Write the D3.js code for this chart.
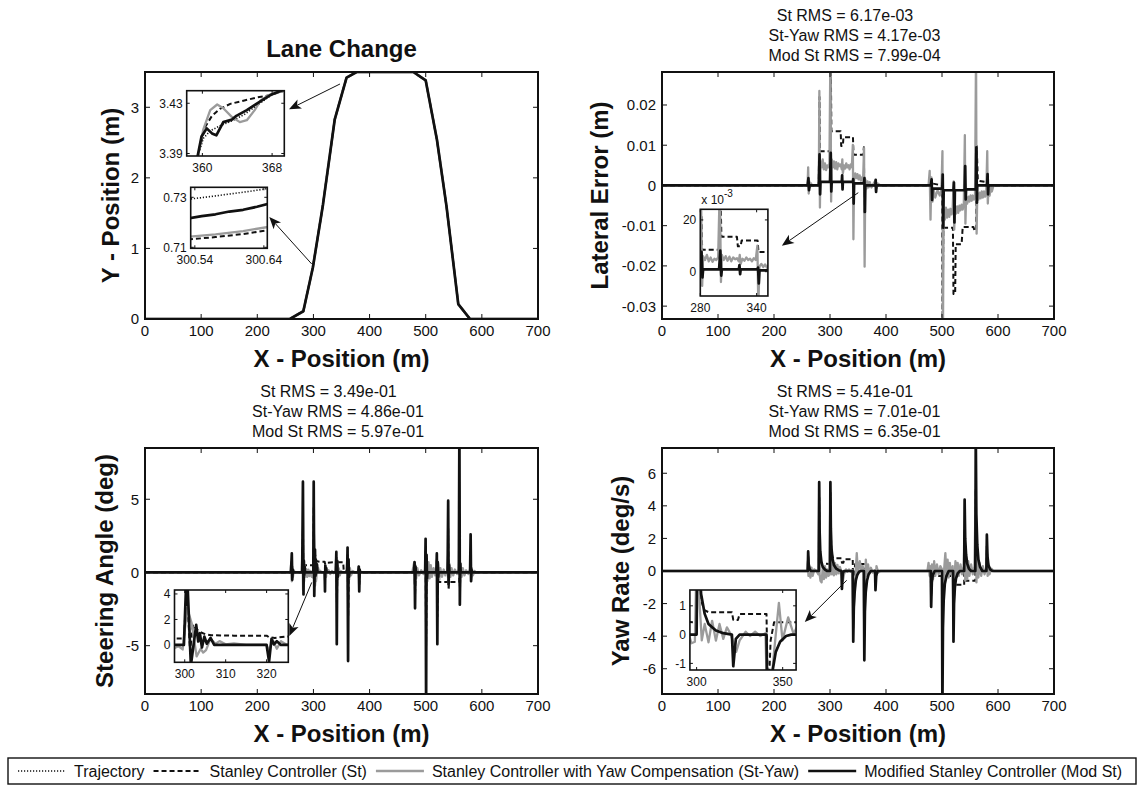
<!DOCTYPE html>
<html>
<head>
<meta charset="utf-8">
<script src="https://cdn.jsdelivr.net/npm/d3@7"></script>
<style>
  body { margin: 0; background: #fff; }
  text { font-family: "Liberation Sans", Arial, Helvetica, sans-serif; fill: #111; }
</style>
</head>
<body>
<svg id="fig" width="1142" height="785"></svg>
<script>
// ---- data ----
const xTicks = [0, 100, 200, 300, 400, 500, 600, 700];

// lane change path (all four controllers overlap at this scale)
const laneMain = [[0,0],[258,0],[282,0.11],[299,0.73],[317,1.62],[338,2.83],[359,3.42],[377,3.5],
  [478,3.5],[500,3.38],[520,2.54],[537,1.6],[558,0.21],[579,0],[700,0]];

// inset: x 358..369
const laneA_traj = [[359.4,3.386],[360.1,3.402],[360.9,3.408],[362,3.412],[363.4,3.416],[364.8,3.421],[366.2,3.428],[367.8,3.436],[369.4,3.441]];
const laneA_st = [[359.4,3.386],[360.3,3.411],[361.1,3.42],[362,3.4255],[363.2,3.4295],[364.7,3.432],[366.2,3.4345],[367.8,3.4365],[369.4,3.44]];
const laneA_yaw = [[359.5,3.388],[360.1,3.409],[360.9,3.4245],[361.7,3.429],[362.4,3.426],[363.4,3.419],[364.3,3.415],[365.1,3.4165],[366,3.4245],[366.7,3.4325],[367.6,3.4365],[369.4,3.44]];
const laneA_mod = [[359.4,3.386],[359.9,3.4035],[360.5,3.41],[361.1,3.406],[361.6,3.4045],[362.4,3.415],[363.4,3.417],[363.9,3.42],[365.1,3.4245],[366.2,3.4295],[367.8,3.4365],[369.4,3.441]];

// inset: x 300.54..300.64
const laneB_traj = [[300.53,0.7292],[300.56,0.7302],[300.59,0.7313],[300.62,0.7324],[300.65,0.7337]];
const laneB_st = [[300.53,0.7131],[300.57,0.7141],[300.61,0.7153],[300.65,0.717]];
const laneB_yaw = [[300.53,0.7142],[300.57,0.7152],[300.61,0.7165],[300.65,0.7183]];
const laneB_mod = [[300.53,0.7215],[300.55,0.7225],[300.57,0.7232],[300.59,0.7243],[300.61,0.725],[300.63,0.7262],[300.65,0.7277]];

// lateral error (m)
const latSt = [[0,0],[260,0],[261.5,0.001],[262.5,-0.0008],[263.5,0],[280,0],
  [281.2,0.022],[282,0.0085],[300.5,0.0085],[301.2,0.034],[302.5,0.0135],[319,0.0135],[320,0.0098],[323,0.0098],[324,0.012],[341,0.012],
  [342,0.0076],[359.5,0.0076],[360.5,0.0095],[361.5,-0.0068],[363,0.0003],[380,0],[381.5,0.0012],[382.5,-0.0008],[384,0],
  [480,0],[481.3,-0.0015],[482.5,0.0005],[500,0],[501,-0.034],[502.5,-0.0105],[519.5,-0.0105],[520.5,-0.027],[523.5,-0.027],
  [524.5,-0.0146],[535,-0.0146],[537,-0.0103],[556,-0.0103],[558,-0.0112],[561,-0.0112],[562,0.0098],[564,0.0012],[580,0.0008],
  [581.5,0.0025],[582.5,-0.0012],[584,0],[700,0]];
const latYaw = [[0,0],[260,0],[261,0.0045],[262,-0.002],[263,0.001],[264,-0.0005],[266,0.0005],[268,0],[280,0],
  [281,0.0235],[282,-0.0055],[283,0.006],[285,0.0045],[287,0.0065],[289,0.004],[291,0.0055],[293,0.0038],[295,0.005],[297,0.0045],[299,0.0055],
  [300.8,0.034],[302,-0.004],[303,0.0065],[305,0.0045],[307,0.006],[309,0.0042],[311,0.0058],[313,0.004],[315,0.0055],[317,0.0048],[319,0.0052],
  [321,0.004],[322,0.0065],[323,0.003],[325,0.005],[327,0.0042],[329,0.0055],[331,0.0045],[333,0.005],[335,0.004],[337,0.0052],[339,0.0045],
  [340.8,0.0101],[341.8,-0.0134],[343,0.002],[345,0.003],[347,0.0018],[349,0.0028],[351,0.0015],[353,0.0025],[355,0.0012],[357,0.002],[359,0.001],
  [360.8,0.0093],[361.8,-0.0202],[363,0.0015],[365,-0.0008],[367,0.001],[369,-0.0005],[371,0.0008],[374,-0.0005],[378,0.0005],[381,0.0012],[382,-0.0012],[385,0.0005],[390,0],
  [476,0],[478,0.0036],[479.5,-0.0085],[481,0.002],[483,-0.004],[485,-0.001],[488,-0.003],[492,-0.0012],[496,-0.0025],[499,-0.001],
  [500.8,0.0085],[501.8,-0.034],[503,-0.006],[505,-0.0085],[507,-0.0055],[509,-0.008],[511,-0.006],[513,-0.0078],[515,-0.0058],[517,-0.0072],[519,-0.006],
  [520.8,0.001],[521.8,-0.011],[523,-0.0055],[525,-0.007],[527,-0.0052],[529,-0.0068],[531,-0.005],[533,-0.0062],[535,-0.0048],[537,-0.006],[539,-0.0045],
  [540.8,0.0125],[541.8,-0.0095],[543,-0.003],[545,-0.0045],[547,-0.0028],[549,-0.004],[551,-0.0025],[553,-0.0038],[555,-0.0025],[557,-0.0035],[559,-0.0028],
  [560.8,0.034],[561.8,-0.012],[563,-0.002],[565,-0.0035],[567,-0.0018],[569,-0.0032],[571,-0.0015],[573,-0.003],[575,-0.0015],[577,-0.0028],[579,-0.002],
  [580.8,0.0085],[581.8,-0.0045],[583,-0.001],[585,-0.0025],[587,-0.0005],[589,-0.0015],[592,0],[700,0]];
const latMod = [[0,0],[260,0],[261.5,0.0018],[262.5,-0.0012],[263.5,0],[280,0],
  [281.3,0.0077],[282.3,-0.0022],[283,0.0009],[300,0.0009],[301.3,0.0081],[302.3,-0.0015],[303,0.0009],[321,0.0009],
  [321.7,0.0025],[322.4,-0.001],[323,0.0009],[341,0.0009],[341.5,0.0016],[342.3,-0.0045],[343,0.0005],[361,0.0005],
  [361.5,0.0018],[362.3,-0.0066],[363,0],[381,0],[381.6,0.0014],[382.3,-0.0016],[383,0],
  [480,0],[481.5,0.0015],[482.3,-0.0036],[483,-0.0008],[500.5,-0.0008],[501.3,0.0027],[502.2,-0.0105],[503,-0.0012],[520.5,-0.0012],
  [521.3,0.0007],[522.2,-0.0092],[523,-0.0012],[540.5,-0.0012],[541.4,0.0048],[542.3,-0.0035],[543,-0.001],[560.5,-0.001],
  [561.4,0.0095],[562.3,-0.0043],[563,0],[580.5,0],[581.4,0.0028],[582.3,-0.0022],[583,0],[700,0]];

// steering angle (deg)
const steerSt = [[0,0],[260,0],[261.5,0.8],[262.5,-0.3],[263.5,0],[280,0],[281.3,3],[282.3,-0.8],[283.5,0.5],[299.8,0.5],
  [300.5,4.5],[301.3,-0.5],[302,1.6],[303,1.2],[304,0.98],[305,0.85],[306.5,0.76],[312,0.73],[320,0.73],[320.6,0.6],[322,0.55],[325,0.67],
  [340,0.7],[341,1],[341.8,-2],[343,0.7],[353,0.7],[354,0.1],[360,0.1],[361,1.2],[361.8,-3],[363,0],[380,0],[381,0.3],[381.8,-0.8],[383,0],
  [479,0],[480.2,0.5],[481,-1.5],[482,0],[499,0],[499.8,1.5],[500.7,-5],[501.5,0],[519,0],[519.8,0.8],[520.7,-3],[521.5,-0.2],[523,-0.65],
  [539.5,-0.65],[540,3],[540.8,-1.2],[541.6,-0.65],[559.5,-0.65],[560,4],[560.8,-1],[562,0],[579,0],[580,1.2],[580.8,-0.4],[582,0],[700,0]];
const steerYaw = [[0,0],[259,0],[260.5,0.7],[261.5,-0.6],[262.5,0.4],[263.5,-0.3],[265,0.15],[267,0],[279,0],
  [280.5,1.5],[281.5,-1.2],[282.5,0.9],[283.5,-0.6],[284.5,0.5],[285.5,-0.3],[287,0.25],[289,-0.3],[291,0.2],[293,-0.25],[295,0.1],[297,-0.3],[298.5,-0.1],[299.5,-0.35],
  [300.6,2.9],[301.7,1.7],[302.9,-0.9],[303.9,-0.3],[304.5,-0.6],[305.2,-0.4],[306.3,0.5],[307.5,0.1],[308.5,0.3],[310,0.05],[312,0.12],[315,0],[320,0],
  [320.5,-0.5],[321.5,0.4],[322.5,-0.3],[323.5,0.3],[325,0],[327,0.15],[330,-0.1],[333,0.1],[336,-0.05],[339,0],
  [340.5,1],[341.5,-1.1],[342.5,0.7],[343.5,-0.5],[345,0.3],[347,-0.2],[349,0.1],[352,0],[359,0],
  [360.5,1.1],[361.5,-1.2],[362.5,0.8],[363.5,-0.5],[365,0.3],[367,-0.2],[370,0.1],[374,0],[379,0],[380.5,0.4],[381.5,-0.5],[382.5,0.2],[384,0],[390,0],
  [476,0],[478,0.4],[479.5,0.7],[480.5,-0.8],[481.5,0.5],[483,-0.4],[485,0.3],[488,-0.2],[492,0.15],[496,-0.1],[499,0.2],
  [500,1.2],[501,-1.3],[502,0.9],[503,-0.6],[505,0.7],[507,-0.4],[509,0.5],[511,-0.3],[514,0.3],[517,-0.2],[519,0.2],
  [520,0.9],[521,-1.1],[522,0.6],[524,-0.5],[526,0.3],[529,-0.3],[532,0.2],[535,-0.2],[538,0.1],
  [540,1.2],[541,-0.8],[542,0.6],[544,-0.3],[546,0.3],[549,-0.2],[552,0.2],[556,-0.1],[559,0.2],
  [560,1.3],[561,-1],[562,0.6],[564,-0.3],[566,0.3],[569,-0.2],[572,0.15],[576,-0.1],[579,0.2],
  [580,0.8],[581,-0.5],[582,0.3],[584,-0.2],[587,0.1],[590,0],[700,0]];
const steerMod = [[0,0],[260,0],[261.5,1.3],[262.3,-0.5],[263.2,0.2],[264,0],[280,0],
  [281.3,6.2],[282.3,-1.5],[283,0.8],[283.6,-0.2],[284.3,0.4],[285,0],[299.8,0],
  [300.5,6.2],[301.5,-1.6],[302.8,1.57],[303.3,0.27],[303.7,0.92],[304.2,-0.2],[304.8,0.65],[305.4,0.1],[306.3,0.55],[307.2,0],[320,0],
  [320.6,-1.3],[321.2,0.47],[321.8,0.05],[322.5,0.3],[323.5,0],
  [340,0],[340.8,1.4],[341.6,-4.9],[342.4,0.8],[343.2,-0.3],[344,0],[360,0],[360.8,1.7],[361.7,-6.05],[362.5,0.9],[363.3,-0.3],[364,0],
  [380,0],[380.8,0.4],[381.6,-1.3],[382.4,0.2],[383,0],
  [479,0],[480.2,0.7],[481,-2.45],[481.8,0.4],[482.5,0],[499,0],[499.8,2.3],[500.7,-9.5],[501.5,1.2],[502.3,-0.4],[503,0],
  [519,0],[519.8,1.3],[520.7,-4.9],[521.5,0.7],[522.3,-0.3],[523,0],[539,0],[540,4.9],[540.8,-0.8],[541.6,0.5],[542.3,0],
  [559,0],[560,10],[560.8,-2.2],[561.6,0.6],[562.3,0],[579,0],[580,2.6],[580.8,-0.6],[581.5,0.2],[582.2,0],[700,0]];

// yaw rate (deg/s)
const yawSt = [[0,0],[260.3,0],[261,0.9],[262,0.3],[264,0],[280,0],[280.7,4.5],[281.5,1.8],[283,0.8],[285,0.45],[300,0.43],
  [300.7,4.8],[301.5,2.2],[302.6,1.2],[304.5,0.85],[306.9,0.78],[320.5,0.78],[321.3,0.51],[324,0.51],[325,0.72],[340.6,0.72],
  [341.5,-2.5],[343,-0.2],[345,0.43],[360.5,0.43],[361.3,-3],[363,-0.3],[366,0],[380.5,0],[381.2,-0.8],[383,0],
  [480,0],[480.6,-1.5],[482,-0.3],[500,-0.3],[500.7,-5],[502,-0.3],[519.8,-0.3],[520.5,-3],[522,-0.85],[539.6,-0.85],
  [540.4,2.5],[541.5,-0.6],[559.5,-0.6],[560.3,5],[561.5,0.5],[564,0],[579.3,0],[580.1,1.5],[582,0],[700,0]];
const yawYaw = [[0,0],[259,0],[260.5,0.6],[261.5,-0.3],[263,0.3],[265,-0.4],[267,0.2],[269,-0.3],[272,0.1],[276,0],[279,-0.2],
  [280.6,4.5],[281.5,-0.2],[283,-0.6],[285,-0.7],[287,0.2],[289,-0.5],[291,0.3],[293,-0.4],[295,0.1],[297,-0.3],[299,-0.25],
  [300.6,4.6],[301.8,1],[303,-0.2],[304.7,0.37],[306.9,-0.27],[309,0.48],[311.2,-0.21],[313.3,0.37],[315.5,-0.15],[317.6,0.25],[319.8,0.02],
  [321.5,-0.3],[323,-0.6],[325,-0.2],[328.5,0.1],[331,-0.05],[334,0.1],[337,-0.05],[340,0.05],
  [341.5,-3.5],[343,-2],[345,-0.6],[347.8,1.1],[349.9,-0.2],[353.2,0.6],[356.4,0.02],[358.5,0.3],[360,-0.1],
  [361.3,-4],[362.5,-0.8],[364,0.7],[366,-0.3],[368,0.4],[370,-0.2],[373,0.2],[376,-0.1],[380,0.05],[381.2,-0.8],[383,0.3],[386,-0.1],[390,0],
  [474,0],[476,0.5],[478,-0.3],[480,0.3],[480.6,-1.5],[482,0.4],[484,-0.5],[486,0.6],[488,-0.3],[491,0.4],[494,-0.2],[497,0.3],[500,0.1],
  [500.7,-5],[502,-1],[504,0.2],[506,1.1],[508,-0.3],[510,0.7],[512,-0.4],[514,0.5],[516,-0.2],[519,0.3],
  [520.5,-3],[522,-0.6],[524,0.6],[526,-0.4],[528,0.5],[530,-0.3],[533,0.4],[536,-0.2],[539,0.3],
  [540.4,2.5],[541.5,-0.6],[543,0.9],[545,-0.5],[547,0.6],[549,-0.3],[552,0.4],[555,-0.2],[558,0.3],
  [560.3,5],[561.5,-0.7],[563,0.8],[565,-0.4],[567,0.5],[570,-0.3],[573,0.3],[576,-0.2],[579,0.2],
  [580.1,1.5],[581.5,-0.3],[583,0.4],[585,-0.2],[588,0.15],[592,0],[700,0]];
const yawMod = [[0,0],[260.3,0],[261,1.2],[262,0.4],[263.5,0.12],[266,0],[280,0],
  [280.7,5.45],[281.5,2.4],[282.6,1.2],[284.7,0.55],[287,0.25],[291,0.08],[295,0],[300,0],
  [300.7,5.45],[301.5,2.6],[302.6,1.41],[304.7,0.72],[306.9,0.37],[311.2,0.14],[315.5,0.05],[320.5,0],
  [321.3,-1.1],[322.8,-0.15],[325,0],[340.6,0],[341.5,-4.34],[342.5,-2.2],[344,-1.3],[346,-0.6],[348.5,-0.25],[352,-0.05],[355,0],
  [360.5,0],[361.3,-5.48],[362.3,-2.5],[363.8,-1.3],[366,-0.6],[369,-0.2],[373,0],[380.5,0],[381.2,-1.18],[382.5,-0.3],[385,0],
  [480,0],[480.6,-2.2],[481.8,-0.7],[483.5,-0.25],[487,0],[500,0],[500.7,-8.5],[501.7,-3.5],[503,-1.8],[505,-0.8],[508,-0.3],[512,0],
  [519.8,0],[520.5,-4.34],[521.5,-2],[523,-1],[525,-0.45],[528,-0.15],[532,0],[539.6,0],[540.4,4.38],[541.4,2],[543,1],[545,0.45],[548,0.15],[552,0],
  [559.5,0],[560.3,8.5],[561.3,3.5],[563,1.6],[565,0.7],[568,0.25],[572,0],[579.3,0],[580.1,2.23],[581.2,0.9],[583,0.35],[586,0.1],[590,0],[700,0]];

const rmsLat = ["St RMS = 6.17e-03", "St-Yaw RMS = 4.17e-03", "Mod St RMS = 7.99e-04"];
const rmsSteer = ["St RMS = 3.49e-01", "St-Yaw RMS = 4.86e-01", "Mod St RMS = 5.97e-01"];
const rmsYaw = ["St RMS = 5.41e-01", "St-Yaw RMS = 7.01e-01", "Mod St RMS = 6.35e-01"];

const legendNames = ["Trajectory", "Stanley Controller (St)", "Stanley Controller with Yaw Compensation (St-Yaw)", "Modified Stanley Controller (Mod St)"];
const legendKeys = ["traj", "st", "yaw", "mod"];

// ---- drawing ----
const styles = {
  traj: {color: "#111", width: 1.6, dash: "1.2,1.8"},
  st:   {color: "#111", width: 2.0, dash: "5,3"},
  yaw:  {color: "#9b9b9b", width: 2.3, dash: null},
  mod:  {color: "#111", width: 2.7, dash: null}
};

const svg = d3.select("#fig");
svg.append("rect").attr("width", 1142).attr("height", 785).attr("fill", "#fff");
var clipN = 0;

function intFmt(v){ return String(v); }

function drawAxes(g, xs, ys, xT, yT, o){
  const [x0, x1] = xs.range();
  const [y1, y0] = ys.range();
  if (o.fill) g.append("rect").attr("x", x0).attr("y", y0).attr("width", x1 - x0).attr("height", y1 - y0).attr("fill", "#fff");

  const id = "clip" + (clipN++);
  g.append("clipPath").attr("id", id).append("rect")
    .attr("x", x0).attr("y", y0).attr("width", x1 - x0).attr("height", y1 - y0);
  const lg = g.append("g").attr("clip-path", "url(#" + id + ")");
  o.series.forEach(s => {
    const st = styles[s.key];
    lg.append("path").datum(s.data)
      .attr("fill", "none")
      .attr("stroke", st.color)
      .attr("stroke-width", st.width)
      .attr("stroke-dasharray", st.dash)
      .attr("stroke-linejoin", "round")
      .attr("d", d3.line().x(d => xs(d[0])).y(d => ys(d[1])));
  });

  const tk = o.tick;
  const tg = g.append("g").attr("stroke", "#111").attr("stroke-width", 1);
  xT.forEach(t => {
    tg.append("line").attr("x1", xs(t)).attr("x2", xs(t)).attr("y1", y1).attr("y2", y1 - tk);
    tg.append("line").attr("x1", xs(t)).attr("x2", xs(t)).attr("y1", y0).attr("y2", y0 + tk);
  });
  yT.forEach(t => {
    tg.append("line").attr("y1", ys(t)).attr("y2", ys(t)).attr("x1", x0).attr("x2", x0 + tk);
    tg.append("line").attr("y1", ys(t)).attr("y2", ys(t)).attr("x1", x1).attr("x2", x1 - tk);
  });
  g.append("rect").attr("x", x0).attr("y", y0).attr("width", x1 - x0).attr("height", y1 - y0)
    .attr("fill", "none").attr("stroke", "#111").attr("stroke-width", o.frameW);

  const xf = o.xFmt || intFmt, yf = o.yFmt || intFmt;
  g.append("g").selectAll("text").data(xT).enter().append("text")
    .attr("x", d => xs(d)).attr("y", y1 + o.xOff)
    .attr("text-anchor", "middle").attr("font-size", o.fs).text(xf);
  g.append("g").selectAll("text").data(yT).enter().append("text")
    .attr("x", x0 - o.yOff).attr("y", d => ys(d)).attr("dy", "0.36em")
    .attr("text-anchor", "end").attr("font-size", o.fs).text(yf);
}

function arrow(g, xs, ys, a){
  const x1 = xs(a.from[0]), y1 = ys(a.from[1]), x2 = xs(a.to[0]), y2 = ys(a.to[1]);
  const ang = Math.atan2(y2 - y1, x2 - x1);
  const L = 12, W = 5, N = 3;
  g.append("line").attr("x1", x1).attr("y1", y1)
    .attr("x2", x2 - Math.cos(ang) * (L - N)).attr("y2", y2 - Math.sin(ang) * (L - N))
    .attr("stroke", "#111").attr("stroke-width", 1);
  g.append("path").attr("d", `M0,0L${-L},${-W}L${-L + N},0L${-L},${W}Z`)
    .attr("transform", `translate(${x2},${y2}) rotate(${ang * 180 / Math.PI})`)
    .attr("fill", "#111");
}

function panel(p){
  const g = svg.append("g");
  const xs = d3.scaleLinear().domain([0, 700]).range([p.box[0], p.box[1]]);
  const ys = d3.scaleLinear().domain(p.yDom).range([p.box[3], p.box[2]]);
  drawAxes(g, xs, ys, xTicks, p.yTicks, {series: p.series, tick: 5, frameW: 2, fs: 15, xOff: 17, yOff: 6, yFmt: p.yFmt});
  const cx = (p.box[0] + p.box[1]) / 2;
  // x label
  g.append("text").attr("x", cx).attr("y", p.box[3] + 48).attr("text-anchor", "middle")
    .attr("font-size", 24).attr("font-weight", "bold").text("X - Position (m)");
  // y label
  const cy = (p.box[2] + p.box[3]) / 2;
  g.append("text").attr("transform", `translate(${p.yLabelX},${cy}) rotate(-90)`)
    .attr("text-anchor", "middle").attr("dy", "0.36em")
    .attr("font-size", 24).attr("font-weight", "bold").text(p.yLabel);
  // title
  if (p.title) {
    g.append("text").attr("x", cx).attr("y", p.box[2] - 15).attr("text-anchor", "middle")
      .attr("font-size", 24).attr("font-weight", "bold").text(p.title);
  }
  if (p.rms) {
    p.rms.forEach((t, i) => {
      g.append("text").attr("x", cx + (i === 0 ? -13 : -3.5)).attr("y", p.box[2] - 51.5 + i * 20)
        .attr("text-anchor", "middle").attr("font-size", 16).text(t);
    });
  }
  // insets
  p.insets.forEach(ins => {
    const ix = d3.scaleLinear().domain(ins.xDom).range([ins.box[0], ins.box[1]]);
    const iy = d3.scaleLinear().domain(ins.yDom).range([ins.box[3], ins.box[2]]);
    drawAxes(g, ix, iy, ins.xTicks, ins.yTicks, {series: ins.series, tick: 3, frameW: 1.6, fs: 12, xOff: 15.5, yOff: 4,
      fill: true, xFmt: ins.xFmt, yFmt: ins.yFmt});
    if (ins.exp) {
      const t = g.append("text").attr("x", ins.box[0] + 1).attr("y", ins.box[2] - 5).attr("font-size", 12);
      t.append("tspan").text("x 10");
      t.append("tspan").attr("dy", -7).attr("font-size", 10).text(ins.exp);
    }
  });
  p.arrows.forEach(a => arrow(g, xs, ys, a));
}

function four(a, b, c, d){
  return [{key: "traj", data: a}, {key: "st", data: b}, {key: "yaw", data: c}, {key: "mod", data: d}];
}
function three(b, c, d){
  return [{key: "st", data: b}, {key: "yaw", data: c}, {key: "mod", data: d}];
}

panel({
  box: [145, 538, 72, 319], yDom: [0, 3.5], yTicks: [0, 1, 2, 3],
  yLabel: "Y - Position (m)", yLabelX: 110, title: "Lane Change",
  series: four(laneMain, laneMain, laneMain, laneMain),
  insets: [
    {box: [186.7, 284.3, 90.7, 156], xDom: [358.2, 369.4], yDom: [3.388, 3.44], xTicks: [360, 368], yTicks: [3.39, 3.43],
     series: four(laneA_traj, laneA_st, laneA_yaw, laneA_mod)},
    {box: [190.7, 267.3, 187.3, 248.3], xDom: [300.534, 300.645], yDom: [0.7096, 0.734], xTicks: [300.54, 300.64], yTicks: [0.71, 0.73],
     series: four(laneB_traj, laneB_st, laneB_yaw, laneB_mod)}
  ],
  arrows: [{from: [347.3, 3.33], to: [256.5, 2.971]}, {from: [296.9, 0.78], to: [221.4, 1.447]}]
});

panel({
  box: [662, 1054, 72, 319], yDom: [-0.0332, 0.0282], yTicks: [-0.03, -0.02, -0.01, 0, 0.01, 0.02],
  yFmt: v => String(+v.toFixed(2)),
  yLabel: "Lateral Error (m)", yLabelX: 599, rms: rmsLat,
  series: three(latSt, latYaw, latMod),
  insets: [
    {box: [700.3, 767.9, 209.3, 296], xDom: [280, 352], yDom: [-0.0094, 0.0241], xTicks: [280, 340], yTicks: [0, 0.02],
     yFmt: v => String(Math.round(v * 1000)), exp: "-3",
     series: three(latSt, latYaw, latMod)}
  ],
  arrows: [{from: [350.5, -0.0018], to: [214, -0.015]}]
});

panel({
  box: [145, 538, 448, 694], yDom: [-8.3, 8.5], yTicks: [-5, 0, 5],
  yLabel: "Steering Angle (deg)", yLabelX: 104, rms: rmsSteer,
  series: three(steerSt, steerYaw, steerMod),
  insets: [
    {box: [174.5, 288.3, 590, 662.3], xDom: [297.5, 325.3], yDom: [-1.36, 4.31], xTicks: [300, 310, 320], yTicks: [0, 2, 4],
     series: three(steerSt, steerYaw, steerMod)}
  ],
  arrows: [{from: [297, -0.68], to: [257, -4.34]}]
});

panel({
  box: [662, 1054, 448, 694], yDom: [-7.55, 7.55], yTicks: [-6, -4, -2, 0, 2, 4, 6],
  yLabel: "Yaw Rate (deg/s)", yLabelX: 620, rms: rmsYaw,
  series: three(yawSt, yawYaw, yawMod),
  insets: [
    {box: [689.9, 796.1, 590, 670], xDom: [296.1, 357.8], yDom: [-1.23, 1.55], xTicks: [300, 350], yTicks: [-1, 0, 1],
     series: three(yawSt, yawYaw, yawMod)}
  ],
  arrows: [{from: [329.8, -0.57], to: [255, -3.13]}]
});

// ---- legend ----
const lg = svg.append("g");
lg.append("rect").attr("x", 8).attr("y", 758).attr("width", 1128).attr("height", 26)
  .attr("fill", "#fff").attr("stroke", "#111").attr("stroke-width", 1.4);
var lx = 18;
legendNames.forEach((name, i) => {
  const st = styles[legendKeys[i]];
  lg.append("line").attr("x1", lx).attr("x2", lx + 48).attr("y1", 771).attr("y2", 771)
    .attr("stroke", st.color).attr("stroke-width", st.width).attr("stroke-dasharray", st.dash);
  const t = lg.append("text").attr("x", lx + 56).attr("y", 771).attr("dy", "0.36em")
    .attr("font-size", 16).text(name);
  lx = lx + 56 + t.node().getComputedTextLength() + 9;
});
</script>
</body>
</html>
